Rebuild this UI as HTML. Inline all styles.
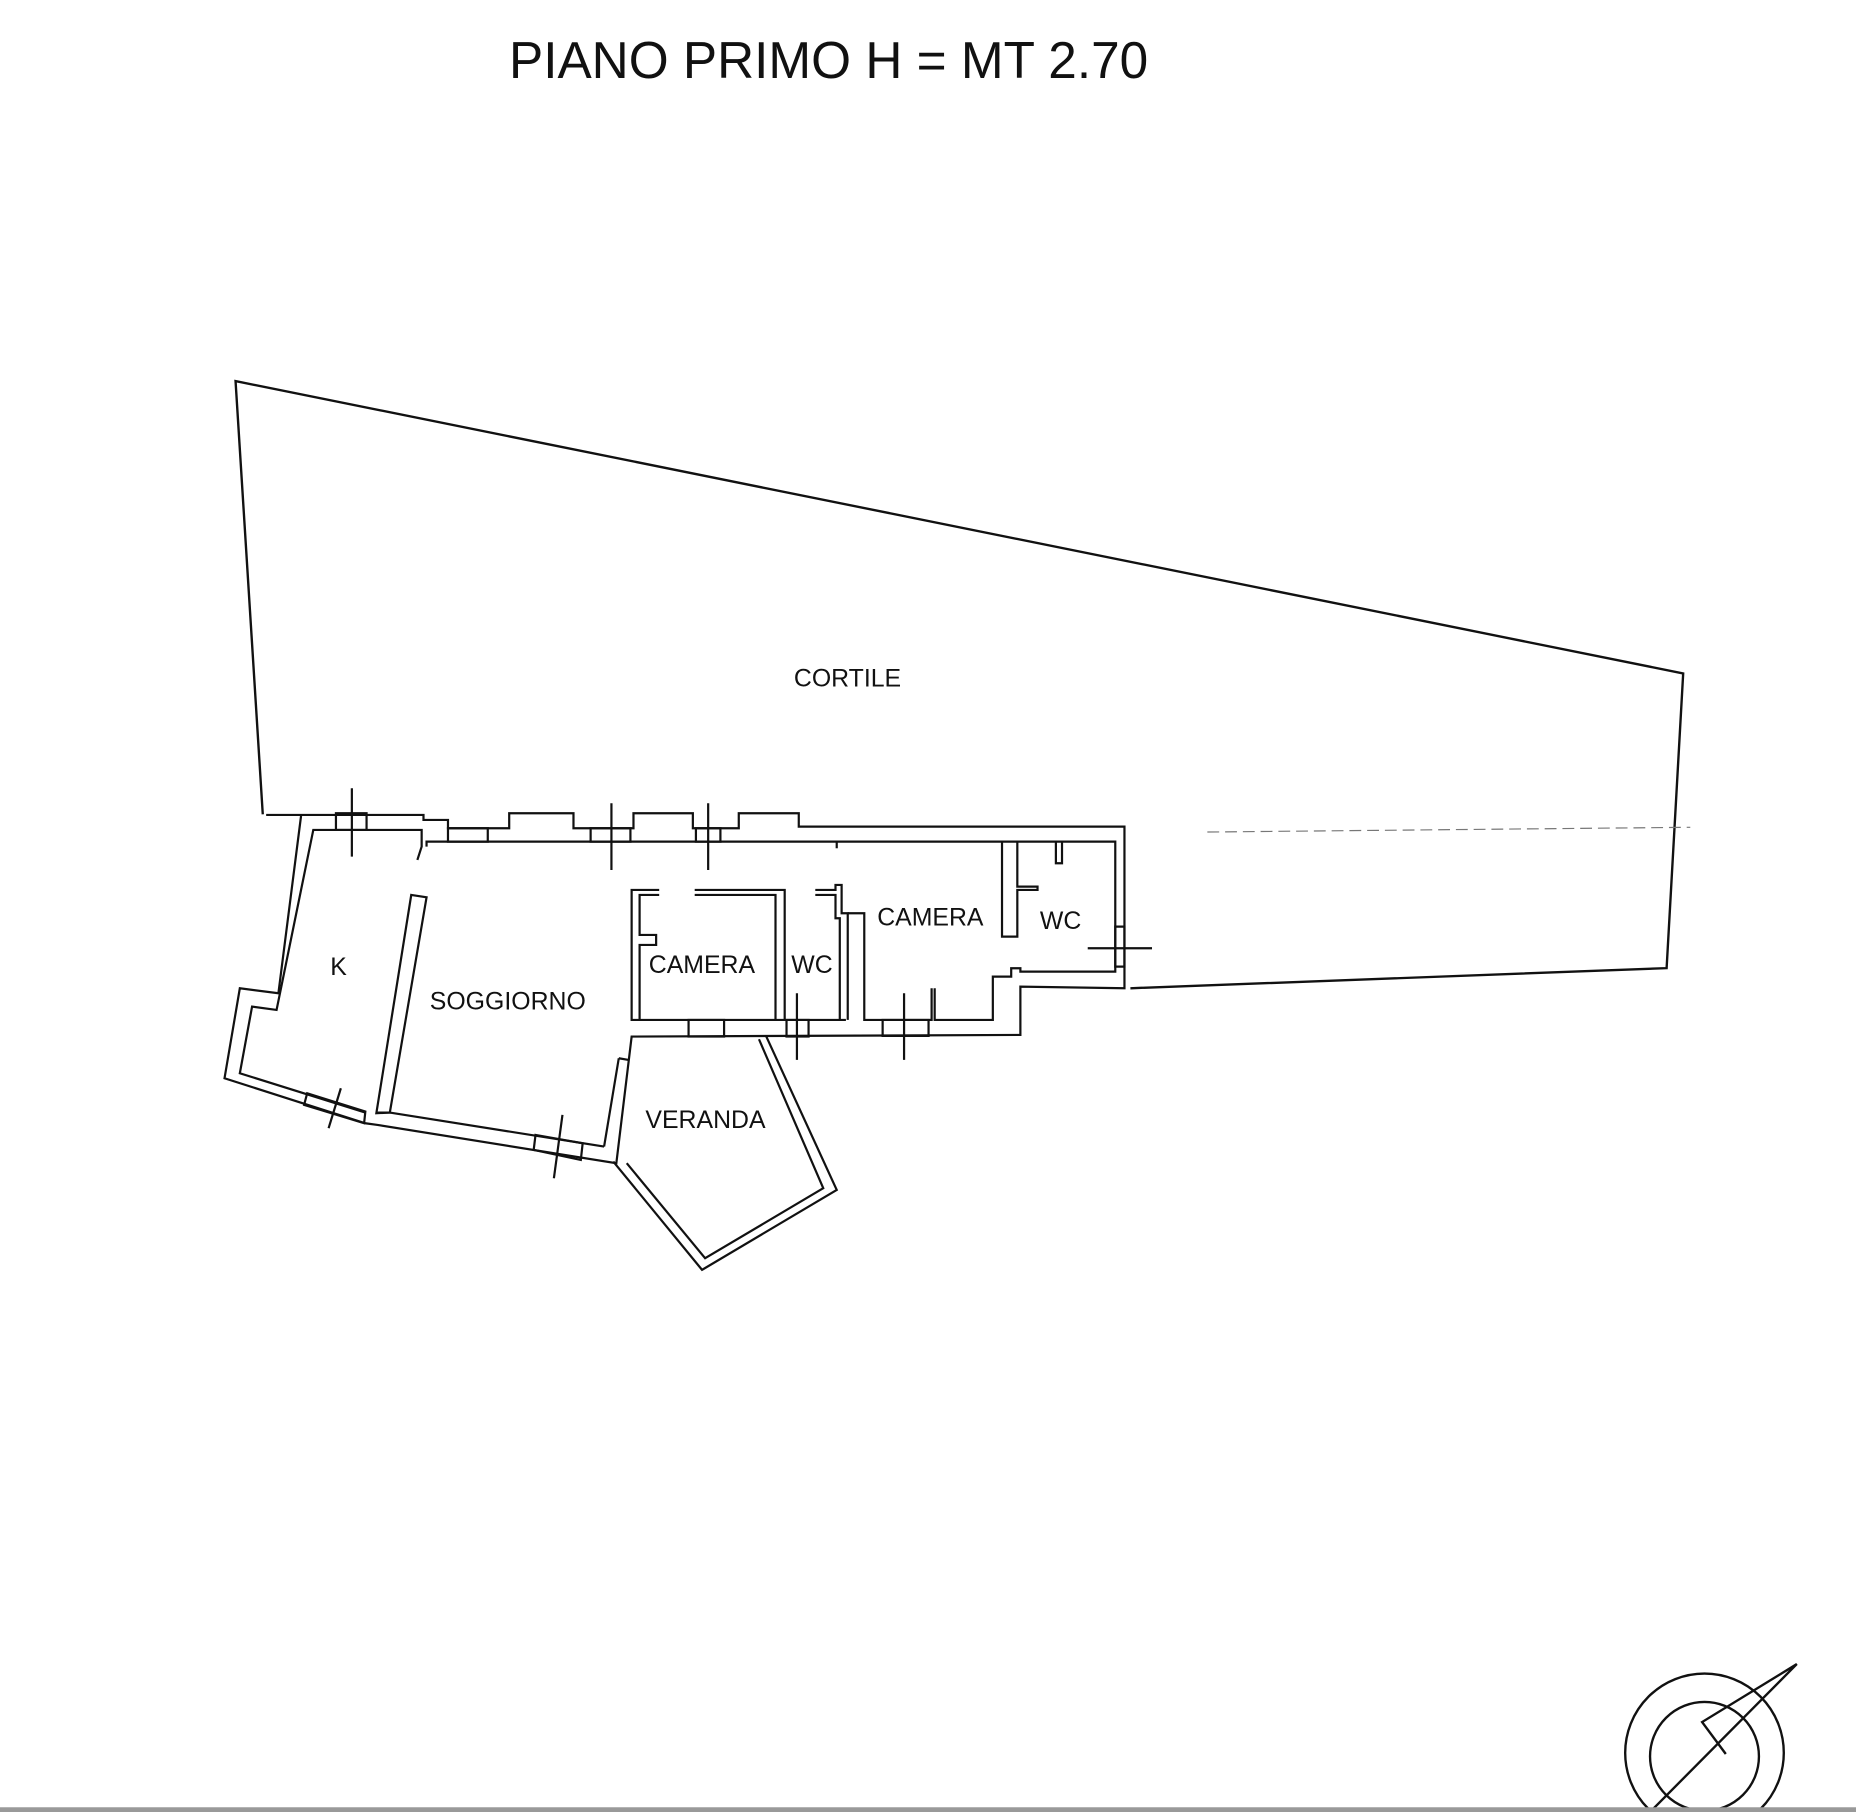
<!DOCTYPE html>
<html><head><meta charset="utf-8"><style>
html,body{margin:0;padding:0;background:#fff;}
svg{display:block;}
text{font-family:"Liberation Sans",sans-serif;fill:#111;}
</style></head><body>
<svg width="1856" height="1812" viewBox="0 0 1568 1531" preserveAspectRatio="none" xmlns="http://www.w3.org/2000/svg">
<rect width="1568" height="1531" fill="#fff"/>
<text x="430" y="66" font-size="44" textLength="540" lengthAdjust="spacingAndGlyphs">PIANO PRIMO H = MT 2.70</text>

<polyline points="222,688 199,322 1422,569 1408,818 955,835" fill="none" stroke="#111" stroke-width="2"/>
<line x1="1020" y1="703" x2="1428" y2="699" stroke="#777" stroke-width="1" stroke-dasharray="10,5"/>
<text x="716" y="580" font-size="21" text-anchor="middle">CORTILE</text>

<g transform="translate(169 659) scale(0.5172 0.2816)" fill="none" stroke="#111" stroke-width="2.2">
<polyline vector-effect="non-scaling-stroke" points="108,105 365,105 365,120 405,120 405,145 505,145 505,100 610,100 610,145 708,145 708,100 805,100 805,145 880,145 880,100 978,100 978,140 1510,140 1510,625 1340,620 1340,765 705,770 680,1150 290,1035 270,1030 40,895 65,625 128,640 165,108"/>
<polyline vector-effect="non-scaling-stroke" points="355,240 362,200 362,150 185,150 125,690 85,680 65,880 270,998"/>
<polyline vector-effect="non-scaling-stroke" points="370,200 370,185 960,185 960,185 1495,185 1495,575 1340,575 1340,565 1325,565 1325,590 1295,590 1295,720 1200,720 1200,625"/>
<polyline vector-effect="non-scaling-stroke" points="290,998 310,998 660,1100"/>
<rect vector-effect="non-scaling-stroke" x="222" y="100" width="50" height="50"/>
<rect vector-effect="non-scaling-stroke" x="405" y="145" width="65" height="40"/>
<rect vector-effect="non-scaling-stroke" x="638" y="145" width="65" height="40"/>
<rect vector-effect="non-scaling-stroke" x="810" y="145" width="40" height="40"/>
<polygon vector-effect="non-scaling-stroke" points="345,345 370,352 310,998 288,1000"/>
<polyline vector-effect="non-scaling-stroke" points="750,330 705,330 705,720 1055,720"/>
<polyline vector-effect="non-scaling-stroke" points="750,345 718,345 718,465 745,465 745,495 718,495 718,720"/>
<polyline vector-effect="non-scaling-stroke" points="808,330 955,330 955,720"/>
<polyline vector-effect="non-scaling-stroke" points="808,345 940,345 940,720"/>
<polyline vector-effect="non-scaling-stroke" points="1005,330 1038,330 1038,315 1048,315 1048,400 1058,400 1058,720"/>
<polyline vector-effect="non-scaling-stroke" points="1005,345 1038,345 1038,415 1045,415 1045,720"/>
<polyline vector-effect="non-scaling-stroke" points="1058,400 1085,400 1085,720 1195,720 1195,625"/>
<polyline vector-effect="non-scaling-stroke" points="1310,185 1310,470 1335,470 1335,330 1368,330 1368,320 1335,320 1335,185"/>
<polyline vector-effect="non-scaling-stroke" points="1398,185 1398,250 1408,250 1408,185"/>
<line vector-effect="non-scaling-stroke" x1="1040" y1="185" x2="1040" y2="205"/>
<rect vector-effect="non-scaling-stroke" x="798" y="720" width="58" height="50"/>
<rect vector-effect="non-scaling-stroke" x="958" y="720" width="36" height="50"/>
<rect vector-effect="non-scaling-stroke" x="1115" y="720" width="75" height="48"/>
<rect vector-effect="non-scaling-stroke" x="1495" y="440" width="15" height="120"/>
<!-- soggiorno right wall inner -->
<line vector-effect="non-scaling-stroke" x1="684" y1="835" x2="660" y2="1100"/>
<line vector-effect="non-scaling-stroke" x1="684" y1="835" x2="700" y2="840"/>
<polygon vector-effect="non-scaling-stroke" points="175,940 270,995 268,1030 170,975"/>
<polygon vector-effect="non-scaling-stroke" points="548,1065 625,1090 622,1140 545,1110"/>
<!-- veranda (open top) -->
<polyline vector-effect="non-scaling-stroke" points="675,1145 820,1470 1040,1230 925,770"/>
<polyline vector-effect="non-scaling-stroke" points="697,1150 825,1435 1018,1225 913,778"/>
<line vector-effect="non-scaling-stroke" x1="248" y1="25" x2="248" y2="230"/>
<line vector-effect="non-scaling-stroke" x1="672" y1="70" x2="672" y2="270"/>
<line vector-effect="non-scaling-stroke" x1="830" y1="70" x2="830" y2="270"/>
<line vector-effect="non-scaling-stroke" x1="975" y1="640" x2="975" y2="840"/>
<line vector-effect="non-scaling-stroke" x1="1150" y1="640" x2="1150" y2="840"/>
<line vector-effect="non-scaling-stroke" x1="1450" y1="505" x2="1555" y2="505"/>
<line vector-effect="non-scaling-stroke" x1="230" y1="925" x2="210" y2="1045"/>
<line vector-effect="non-scaling-stroke" x1="592" y1="1005" x2="578" y2="1195"/>
</g>

<text x="286" y="824" font-size="21" text-anchor="middle">K</text>
<text x="429" y="853" font-size="21" text-anchor="middle">SOGGIORNO</text>
<text x="593" y="822" font-size="21" text-anchor="middle">CAMERA</text>
<text x="686" y="822" font-size="21" text-anchor="middle">WC</text>
<text x="786" y="782" font-size="21" text-anchor="middle">CAMERA</text>
<text x="896" y="785" font-size="21" text-anchor="middle">WC</text>
<text x="596" y="953" font-size="21" text-anchor="middle">VERANDA</text>

<g fill="none" stroke="#111" stroke-width="2">
<circle cx="1440" cy="1481" r="67"/>
<circle cx="1440" cy="1484" r="46"/>
<polyline points="1395,1530 1518,1406 1438,1455 1458,1482"/>
</g>
<rect x="0" y="1527" width="1568" height="4" fill="#999"/>
</svg>
</body></html>
